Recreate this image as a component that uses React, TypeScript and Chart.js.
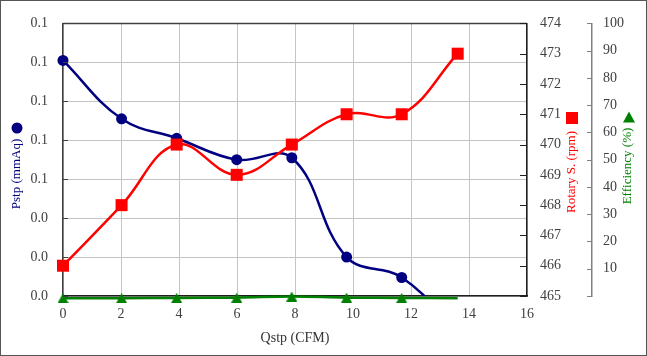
import React, { useEffect, useRef } from "react";
import { Chart, registerables } from "chart.js";

Chart.register(...registerables);

// ---- data ----
const QSTP = [0, 2.02, 3.92, 5.99, 7.89, 9.78, 11.68, 13.61];
const PSTP = [0.121, 0.091, 0.081, 0.07, 0.071, 0.02, 0.0095, -0.018];
const ROTARY = [466, 468, 470, 469, 470, 471, 471, 473];
const EFFICIENCY = [-0.8, -0.8, -0.7, -0.6, -0.2, -0.6, -0.7, -0.8];
const EFF_MARKER_RADIUS = [6, 6, 6, 6, 6, 6, 6, 0];

const X_MIN = 0, X_MAX = 16, X_STEP = 2;
const PSTP_MIN = 0, PSTP_MAX = 0.14, PSTP_STEP = 0.02;
const RPM_MIN = 465, RPM_MAX = 474, RPM_STEP = 1;
const EFF_MIN = 0, EFF_MAX = 100, EFF_STEP = 10;

const X_TITLE = "Qstp (CFM)";
const PSTP_TITLE = "Pstp (mmAq)";
const RPM_TITLE = "Rotary S. (rpm)";
const EFF_TITLE = "Efficiency (%)";

const FONT = '"Liberation Serif", "Times New Roman", serif';
const NAVY = "#000080";
const RED = "#FF0000";
const GREEN = "#008000";
const TICK_COLOR = "#404040";

function makeTriangle(w: number, h: number, color: string) {
  const c = document.createElement("canvas");
  c.width = w;
  c.height = h;
  const g = c.getContext("2d")!;
  g.fillStyle = color;
  g.beginPath();
  g.moveTo(w / 2, 0);
  g.lineTo(w, h);
  g.lineTo(0, h);
  g.closePath();
  g.fill();
  return c;
}

const decoPlugin = {
  id: "deco",
  beforeDatasetsDraw(chart: any) {
    const ctx: CanvasRenderingContext2D = chart.ctx;
    const { left, right, top } = chart.chartArea;
    ctx.save();
    ctx.strokeStyle = "#404040";
    ctx.lineWidth = 1.5;
    ctx.beginPath();
    ctx.moveTo(left, top);
    ctx.lineTo(right, top);
    ctx.stroke();
    ctx.restore();
  },
  afterDraw(chart: any) {
    const ctx: CanvasRenderingContext2D = chart.ctx;
    const { left } = chart.chartArea;
    const yS = chart.scales.y;
    const y1 = chart.scales.y1;
    const y2 = chart.scales.y2;
    ctx.save();
    const hline = (x0: number, x1: number, y: number) => {
      const p = Math.round(y) + 0.5;
      ctx.beginPath();
      ctx.moveTo(x0, p);
      ctx.lineTo(x1, p);
      ctx.stroke();
    };
    // inside tick marks
    ctx.lineWidth = 1;
    ctx.strokeStyle = "#404040";
    yS.ticks.forEach((_t: any, i: number) => hline(left, left + 5, yS.getPixelForTick(i)));
    ctx.strokeStyle = "#202020";
    y1.ticks.forEach((_t: any, i: number) => hline(y1.left - 7, y1.left, y1.getPixelForTick(i)));
    ctx.strokeStyle = "#808080";
    y2.ticks.forEach((_t: any, i: number) => hline(y2.left - 5, y2.left, y2.getPixelForTick(i)));

    // axis titles
    const vtext = (txt: string, x: number, y: number, color: string) => {
      ctx.save();
      ctx.translate(x, y);
      ctx.rotate(-Math.PI / 2);
      ctx.fillStyle = color;
      ctx.font = `13px ${FONT}`;
      ctx.textAlign = "center";
      ctx.textBaseline = "middle";
      ctx.fillText(txt, 0, 0);
      ctx.restore();
    };
    vtext(PSTP_TITLE, 17, 174, NAVY);
    vtext(RPM_TITLE, 572, 172, RED);
    vtext(EFF_TITLE, 628, 166, GREEN);

    // legend markers on titles
    ctx.fillStyle = NAVY;
    ctx.beginPath();
    ctx.arc(17, 128, 5.5, 0, Math.PI * 2);
    ctx.fill();
    ctx.fillStyle = RED;
    ctx.fillRect(566, 112, 12, 12);
    ctx.fillStyle = GREEN;
    ctx.beginPath();
    ctx.moveTo(629, 111.5);
    ctx.lineTo(635, 122.5);
    ctx.lineTo(623, 122.5);
    ctx.closePath();
    ctx.fill();

    // x title
    ctx.fillStyle = "#333333";
    ctx.font = `14px ${FONT}`;
    ctx.textAlign = "center";
    ctx.textBaseline = "middle";
    ctx.fillText(X_TITLE, 295, 338);

    // outer frame
    ctx.strokeStyle = "#555555";
    ctx.lineWidth = 1;
    ctx.strokeRect(0.5, 0.5, chart.width - 1, chart.height - 1);
    ctx.restore();
  },
};

export default function App() {
  const ref = useRef<HTMLCanvasElement>(null);

  useEffect(() => {
    const tri = makeTriangle(11, 10, GREEN);
    const pts = (ys: number[]) => QSTP.map((x, i) => ({ x, y: ys[i] }));
    const tickFont = { family: FONT, size: 14 };

    const chart = new Chart(ref.current!, {
      type: "line",
      data: {
        datasets: [
          {
            label: RPM_TITLE,
            data: pts(ROTARY),
            yAxisID: "y1",
            borderColor: RED,
            backgroundColor: RED,
            borderWidth: 2.5,
            pointStyle: "rect",
            pointRadius: 8.5,
            pointBorderWidth: 0,
            pointBackgroundColor: RED,
            tension: 0.4,
            clip: false as any,
          },
          {
            label: PSTP_TITLE,
            data: pts(PSTP),
            yAxisID: "y",
            borderColor: NAVY,
            backgroundColor: NAVY,
            borderWidth: 2.5,
            pointStyle: "circle",
            pointRadius: 5.5,
            pointBorderWidth: 0,
            pointBackgroundColor: NAVY,
            tension: 0.4,
            clip: { left: 10, right: 10, top: 10, bottom: 0 } as any,
          },
          {
            label: EFF_TITLE,
            data: pts(EFFICIENCY),
            yAxisID: "y2",
            borderColor: GREEN,
            backgroundColor: GREEN,
            borderWidth: 2.5,
            pointStyle: tri as any,
            pointRadius: EFF_MARKER_RADIUS,
            pointBorderWidth: 0,
            tension: 0.4,
            clip: false as any,
          },
        ],
      },
      options: {
        responsive: false,
        animation: false,
        devicePixelRatio: 1,
        layout: { padding: { top: 19, left: 0, right: 0, bottom: 0 } },
        plugins: { legend: { display: false }, tooltip: { enabled: false } },
        scales: {
          x: {
            type: "linear",
            position: "bottom",
            min: X_MIN,
            max: X_MAX,
            afterFit: (s: any) => { s.height = 60; },
            ticks: { stepSize: X_STEP, font: tickFont, color: TICK_COLOR, padding: 10, maxRotation: 0 },
            grid: { color: "#c4c4c4", drawTicks: false, lineWidth: 1 },
            border: { color: "#202020", width: 1.5 },
          },
          y: {
            type: "linear",
            position: "left",
            min: PSTP_MIN,
            max: PSTP_MAX,
            afterFit: (s: any) => { s.width = 63; },
            ticks: {
              stepSize: PSTP_STEP,
              font: tickFont,
              color: TICK_COLOR,
              padding: 15,
              callback: (v: any) => Number(v).toFixed(1),
            },
            grid: { color: "#c4c4c4", drawTicks: false, lineWidth: 1 },
            border: { color: "#404040", width: 1.5 },
          },
          y1: {
            type: "linear",
            position: "right",
            weight: 0,
            min: RPM_MIN,
            max: RPM_MAX,
            afterFit: (s: any) => { s.width = 65; },
            ticks: { stepSize: RPM_STEP, font: tickFont, color: TICK_COLOR, padding: 13 },
            grid: { drawOnChartArea: false, drawTicks: false },
            border: { color: "#202020", width: 1.5 },
          },
          y2: {
            type: "linear",
            position: "right",
            weight: 1,
            min: EFF_MIN,
            max: EFF_MAX,
            afterFit: (s: any) => { s.width = 55; },
            ticks: {
              stepSize: EFF_STEP,
              font: tickFont,
              color: TICK_COLOR,
              padding: 11,
              callback: (v: any) => (Number(v) === 0 ? "" : String(v)),
            },
            grid: { drawOnChartArea: false, drawTicks: false },
            border: { color: "#808080", width: 1.5 },
          },
        },
      } as any,
      plugins: [decoPlugin],
    });
    return () => chart.destroy();
  }, []);

  return (
    <div style={{ position: "fixed", left: 0, top: 0, width: 647, height: 356, background: "#ffffff" }}>
      <canvas ref={ref} width={647} height={356} style={{ display: "block" }} />
    </div>
  );
}
